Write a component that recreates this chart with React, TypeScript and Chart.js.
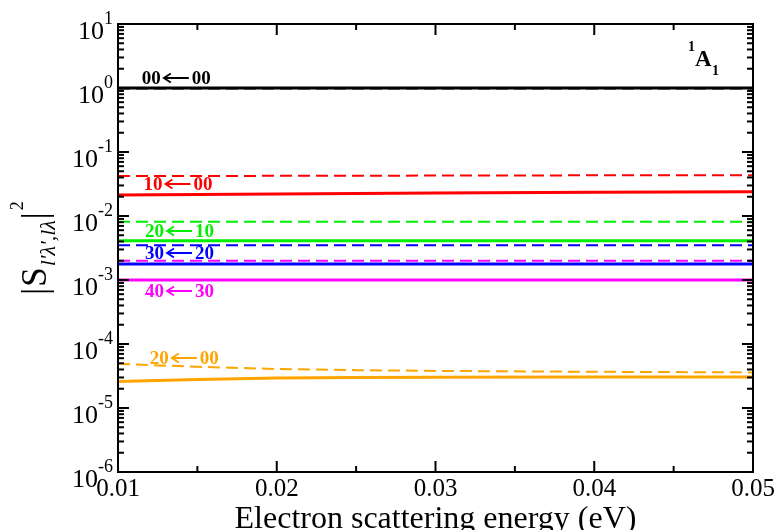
import React, { useEffect, useRef } from 'react';
import { Chart, registerables } from 'chart.js';

Chart.register(...registerables);

// ---- data ----
const energies = [0.01, 0.015, 0.02, 0.025, 0.03, 0.04, 0.05];

const s00_00_solid = [1.0, 1.0, 1.0, 1.0, 1.0, 1.0, 1.0];
const s00_00_dashed = [0.985, 0.985, 0.985, 0.985, 0.985, 0.985, 0.985];
const s10_00_solid = [0.0212, 0.0216, 0.022, 0.0224, 0.0228, 0.0234, 0.024];
const s10_00_dashed = [0.042, 0.0422, 0.0424, 0.0426, 0.0428, 0.0432, 0.0435];
const s20_10_solid = [0.0041, 0.0041, 0.0041, 0.0041, 0.0041, 0.0041, 0.0041];
const s20_10_dashed = [0.0081, 0.0081, 0.0081, 0.0081, 0.0081, 0.0081, 0.0081];
const s30_20_solid = [0.00178, 0.00178, 0.00178, 0.00178, 0.00178, 0.00178, 0.00178];
const s30_20_dashed = [0.0035, 0.0035, 0.0035, 0.0035, 0.0035, 0.0035, 0.0035];
const s40_30_solid = [0.001, 0.001, 0.001, 0.001, 0.001, 0.001, 0.001];
const s40_30_dashed = [0.002, 0.002, 0.002, 0.002, 0.002, 0.002, 0.002];
const s20_00_solid = [2.6e-5, 2.8e-5, 2.94e-5, 3.0e-5, 3.03e-5, 3.05e-5, 3.05e-5];
const s20_00_dashed = [4.9e-5, 4.4e-5, 4.07e-5, 3.9e-5, 3.8e-5, 3.68e-5, 3.6e-5];

const seriesColors = ['#000000', '#ff0000', '#00ee00', '#0000ff', '#ff00ff', '#ffa500'];
const solidSeries = [s00_00_solid, s10_00_solid, s20_10_solid, s30_20_solid, s40_30_solid, s20_00_solid];
const dashedSeries = [s00_00_dashed, s10_00_dashed, s20_10_dashed, s30_20_dashed, s40_30_dashed, s20_00_dashed];

// ---- axis ticks ----
const xMin = 0.01;
const xMax = 0.05;
const xMajorTicks = [0.01, 0.02, 0.03, 0.04, 0.05];
const xMinorTicks = [0.015, 0.025, 0.035, 0.045];
const xTickLabels = ['0.01', '0.02', '0.03', '0.04', '0.05'];
const yExponents = [1, 0, -1, -2, -3, -4, -5, -6];

// ---- annotations ----
const labelLeft = ['00', '10', '20', '30', '40', '20'];
const labelRight = ['00', '00', '10', '20', '30', '00'];
const labelX = [0.0115, 0.0116, 0.0117, 0.0117, 0.0117, 0.012];
const labelY = [1.155, 0.0255, 0.0047, 0.00213, 0.000542, 4.87e-5];

const xTitle = 'Electron scattering energy (eV)';
const SERIF = '"Liberation Serif", "Times New Roman", serif';

const axesPlugin = {
  id: 'graceAxes',
  afterDraw(chart: any) {
    const { ctx, chartArea: a, scales } = chart;
    const xs = scales.x;
    const ys = scales.y;
    ctx.save();

    // annotations
    for (let i = 0; i < labelLeft.length; i++) {
      const px = xs.getPixelForValue(labelX[i]);
      const py = ys.getPixelForValue(labelY[i]);
      ctx.fillStyle = seriesColors[i];
      ctx.strokeStyle = seriesColors[i];
      ctx.font = 'bold 19px ' + SERIF;
      ctx.textAlign = 'left';
      ctx.textBaseline = 'alphabetic';
      ctx.fillText(labelLeft[i], px, py);
      const w1 = ctx.measureText(labelLeft[i]).width;
      const ax0 = px + w1 + 3;
      const ax1 = ax0 + 25;
      const ay = py - 6;
      ctx.lineWidth = 2;
      ctx.beginPath();
      ctx.moveTo(ax0 + 1, ay);
      ctx.lineTo(ax1, ay);
      ctx.stroke();
      ctx.lineWidth = 1.8;
      ctx.beginPath();
      ctx.moveTo(ax0 + 7, ay - 4.5);
      ctx.lineTo(ax0, ay);
      ctx.lineTo(ax0 + 7, ay + 4.5);
      ctx.stroke();
      ctx.fillText(labelRight[i], ax1 + 3, py);
    }

    // 1A1 label
    ctx.fillStyle = '#000';
    ctx.font = 'bold 14px ' + SERIF;
    ctx.fillText('1', 688, 51);
    ctx.font = 'bold 23px ' + SERIF;
    ctx.fillText('A', 695, 66);
    ctx.font = 'bold 14px ' + SERIF;
    ctx.fillText('1', 712, 75);

    // frame
    ctx.strokeStyle = '#000';
    ctx.lineWidth = 2;
    ctx.strokeRect(a.left, a.top, a.right - a.left, a.bottom - a.top);

    const tick = (x0: number, y0: number, x1: number, y1: number) => {
      ctx.beginPath();
      ctx.moveTo(x0, y0);
      ctx.lineTo(x1, y1);
      ctx.stroke();
    };
    xMajorTicks.forEach((v) => {
      const p = xs.getPixelForValue(v);
      tick(p, a.bottom, p, a.bottom - 11);
      tick(p, a.top, p, a.top + 11);
    });
    xMinorTicks.forEach((v) => {
      const p = xs.getPixelForValue(v);
      tick(p, a.bottom, p, a.bottom - 6);
      tick(p, a.top, p, a.top + 6);
    });

    yExponents.forEach((e) => {
      const base = Math.pow(10, e);
      const p = ys.getPixelForValue(base);
      tick(a.left, p, a.left + 11, p);
      tick(a.right, p, a.right - 11, p);
      if (e < 1) {
        for (let k = 2; k <= 9; k++) {
          const q = ys.getPixelForValue(k * base);
          tick(a.left, q, a.left + 6, q);
          tick(a.right, q, a.right - 6, q);
        }
      }
    });

    // x tick labels
    ctx.fillStyle = '#000';
    ctx.font = '25px ' + SERIF;
    ctx.textAlign = 'center';
    ctx.textBaseline = 'alphabetic';
    xMajorTicks.forEach((v, i) => {
      const p = xs.getPixelForValue(v);
      ctx.fillText(xTickLabels[i], p, a.bottom + 24);
    });

    // y tick labels 10^n
    yExponents.forEach((e) => {
      const p = ys.getPixelForValue(Math.pow(10, e));
      const exp = String(e);
      ctx.font = '18px ' + SERIF;
      const we = ctx.measureText(exp).width;
      ctx.font = '26px ' + SERIF;
      const wb = ctx.measureText('10').width;
      const right = a.left - 5;
      ctx.textAlign = 'left';
      ctx.fillText('10', right - we - wb, p + 15);
      ctx.font = '18px ' + SERIF;
      ctx.fillText(exp, right - we, p);
    });

    // x title
    ctx.font = '32px ' + SERIF;
    ctx.textAlign = 'center';
    ctx.fillText(xTitle, (a.left + a.right) / 2, 528);

    // y title |S_{l'λ',lλ}|^2 rotated
    ctx.save();
    ctx.translate(46, (a.top + a.bottom) / 2);
    ctx.rotate(-Math.PI / 2);
    ctx.textAlign = 'left';
    const parts = [
      { t: '|', f: '35px ' + SERIF, dy: 0, gap: 1 },
      { t: 'S', f: '35px ' + SERIF, dy: 0, gap: 1 },
      { t: "l'\u03bb',l\u03bb", f: 'italic 22px ' + SERIF, dy: 9, gap: 1 },
      { t: '|', f: '35px ' + SERIF, dy: 0, gap: 2 },
      { t: '2', f: '18px ' + SERIF, dy: -23, gap: 0 },
    ];
    let total = 0;
    const widths = parts.map((pt) => {
      ctx.font = pt.f;
      const w = ctx.measureText(pt.t).width + pt.gap;
      total += w;
      return w;
    });
    let cx = -total / 2;
    parts.forEach((pt, i) => {
      ctx.font = pt.f;
      ctx.fillText(pt.t, cx, pt.dy);
      cx += widths[i];
    });
    ctx.restore();

    ctx.restore();
  },
};

export default function App() {
  const ref = useRef<HTMLCanvasElement | null>(null);

  useEffect(() => {
    if (!ref.current) return;
    const datasets: any[] = [];
    for (let i = 0; i < solidSeries.length; i++) {
      datasets.push({
        data: energies.map((x, j) => ({ x, y: dashedSeries[i][j] })),
        borderColor: seriesColors[i],
        borderWidth: 2,
        borderDash: [12, 6],
        pointRadius: 0,
        fill: false,
        tension: 0,
      });
      datasets.push({
        data: energies.map((x, j) => ({ x, y: solidSeries[i][j] })),
        borderColor: seriesColors[i],
        borderWidth: 3,
        pointRadius: 0,
        fill: false,
        tension: 0,
      });
    }
    const chart = new Chart(ref.current, {
      type: 'line',
      data: { datasets },
      options: {
        animation: false,
        responsive: false,
        devicePixelRatio: 1,
        layout: { padding: { left: 118, top: 24, right: 26, bottom: 58 } },
        plugins: { legend: { display: false }, tooltip: { enabled: false } },
        scales: {
          x: { type: 'linear', min: xMin, max: xMax, display: false },
          y: { type: 'logarithmic', min: 1e-6, max: 10, display: false },
        },
      },
      plugins: [axesPlugin],
    });
    return () => chart.destroy();
  }, []);

  return (
    <div style={{ position: 'fixed', left: 0, top: 0, width: 779, height: 530, background: '#fff' }}>
      <canvas ref={ref} width={779} height={530} />
    </div>
  );
}
